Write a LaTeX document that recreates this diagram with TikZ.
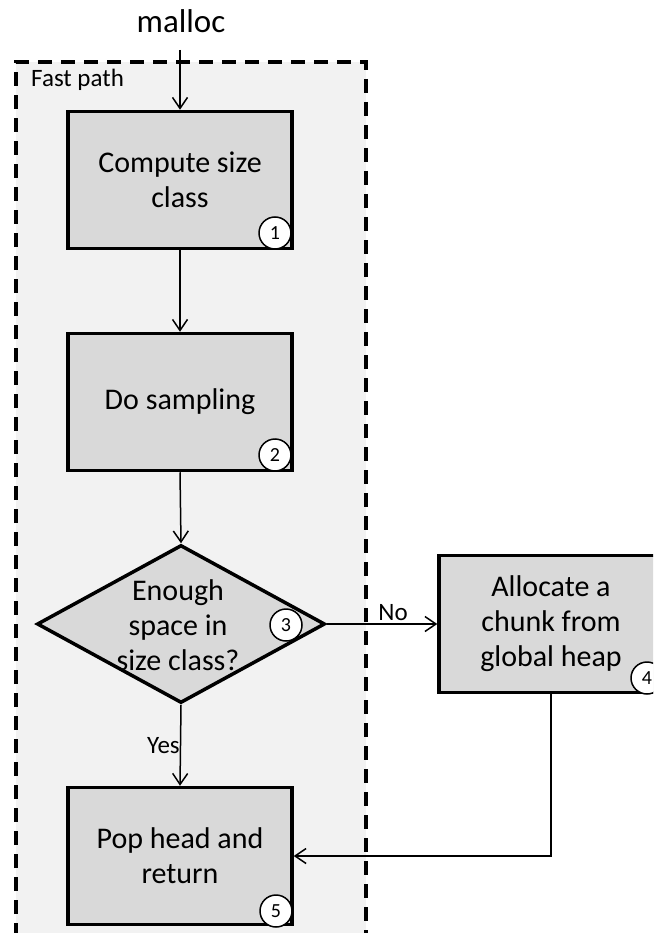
\documentclass[tikz,border=0pt]{standalone}
\usepackage{fontspec}
\setmainfont{Carlito}
\usetikzlibrary{arrows.meta,shapes.geometric}
\definecolor{boxfill}{HTML}{D9D9D9}
\definecolor{bgfill}{HTML}{F2F2F2}
\begin{document}
\begin{tikzpicture}[x=1pt,y=-1pt,
  procbox/.style={draw, line width=3.5pt, fill=boxfill, minimum width=224pt, minimum height=137pt,
    align=center, font=\fontsize{30}{35}\selectfont, inner sep=0pt},
  decision/.style={draw, diamond, line width=3.5pt, fill=boxfill, minimum width=288pt, minimum height=158pt, inner sep=0pt},
  dtext/.style={align=center, font=\fontsize{30}{35}\selectfont, inner sep=0pt},
  num/.style={circle, draw, fill=white, line width=1.5pt, minimum size=32pt, inner sep=0pt, font=\fontsize{20}{20}\selectfont},
  arr/.style={line width=1.5pt, -{Straight Barb[length=11pt,width=15pt]}},
  lbl/.style={font=\fontsize{25}{30}\selectfont},
  dashborder/.style={line width=3.5pt, dash pattern=on 14pt off 9pt}
]
\useasboundingbox (0,0) rectangle (653,933);
\clip (0,0) rectangle (653,933);
\fill[bgfill] (16,62) rectangle (366,960);
\draw[dashborder] (16,960) -- (16,62) -- (366,62) -- (366,960);

\node[anchor=base, font=\fontsize{33}{40}\selectfont] (ml) at (181,33) {malloc};
\node[lbl, anchor=base west, inner sep=0pt] (fp) at (31,87) {Fast path};

\node[procbox] (b1) at (180,180) {Compute size\\class};
\node[procbox] (b2) at (180,402) {Do sampling};
\node[decision] (d3) at (181,624) {};
\node[dtext] (d3t) at (178,625) {Enough\\space in\\size class?};
\node[procbox] (b4) at (551,624) {Allocate a\\chunk from\\global heap};
\node[procbox] (b5) at (180,856) {Pop head and\\return};

\node[num] (n1) at (275,233) {1};
\node[num] (n2) at (275,455) {2};
\node[num] (n3) at (286,625) {3};
\node[num] (n4) at (647,678) {4};
\node[num] (n5) at (276,911) {5};

\coordinate (mstart) at (180,50);
\draw[arr] (mstart) -- (b1.north);
\draw[arr] (b1.south) -- (b2.north);
\draw[arr] (b2.south) -- (d3.north);
\draw[arr] (d3.east) -- (b4.west) node[lbl, pos=0.6, anchor=south, inner sep=3pt] {No};
\draw[arr] (d3.south) -- (b5.north) node[lbl, pos=0.5, anchor=east, inner sep=0pt] {Yes};
\draw[arr] (b4.south) |- (b5.east);
\end{tikzpicture}
\end{document}
